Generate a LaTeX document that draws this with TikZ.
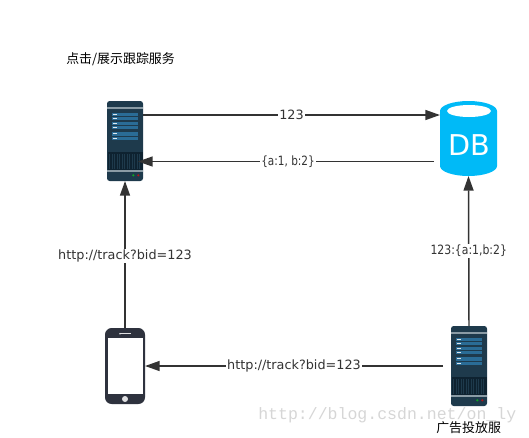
\documentclass[tikz,border=0pt]{standalone}
\usepackage{fontspec}
\setmainfont{DejaVu Sans}
\newfontfamily\cjk{Noto Sans CJK SC}
\newfontfamily\markfont{Liberation Mono}
\usepackage{xcolor}
\usetikzlibrary{arrows.meta,positioning}
\definecolor{rackbody}{RGB}{30,58,76}
\definecolor{rackstrip}{RGB}{138,155,165}
\definecolor{rackvent}{RGB}{14,34,48}
\definecolor{rackpanel}{RGB}{42,108,150}
\definecolor{phonebody}{RGB}{46,50,62}
\definecolor{dbblue}{RGB}{0,186,247}
\definecolor{linkgray}{RGB}{51,51,51}
\tikzset{
  rack/.style={minimum width=36*0.75pt, minimum height=80*0.75pt, inner sep=0pt, outer sep=0pt},
  mobile/.style={minimum width=40*0.75pt, minimum height=76*0.75pt, inner sep=0pt, outer sep=0pt},
  store/.style={minimum width=57*0.75pt, minimum height=75*0.75pt, inner sep=0pt, outer sep=0pt},
  link/.style={draw=linkgray, line width=1.1pt, -{Triangle[length=11pt, width=7.5pt]}},
  lbl/.style={fill=white, inner sep=0.6pt, font=\fontsize{9.6}{11}\selectfont, text=linkgray},
  title/.style={inner sep=0pt, font=\cjk\fontsize{9.7}{11}\selectfont, text=black}
}
\newcommand{\rackface}[1]{
  \begin{scope}[shift={(#1.center)}]
    \fill[rackbody, rounded corners=2pt] (-18,-40) rectangle (18,40);
    \fill[rackstrip] (-18,-34) rectangle (18,-32.5);
    \foreach \y in {-28.5,-24.5,-19.5,-15.5,-8.8,-4.5} {
      \fill[rackpanel] (-13,\y) rectangle (13,\y+3.4);
      \fill[white!85!rackpanel] (-12,\y+1) rectangle (-8,\y+2.2);
    }
    \fill[rackvent] (-17.5,11) rectangle (17.5,29);
    \foreach \x in {-16,-13.5,...,16} \fill[rackbody] (\x,12.5) rectangle (\x+0.7,28);
    \fill[rackstrip] (-18,29) rectangle (18,31);
    \fill[green!55!rackbody] (8.3,34.3) circle (1.2);
    \fill[red!65!rackbody] (13.3,34.3) circle (1.2);
  \end{scope}
}
\begin{document}
\begin{tikzpicture}[x=0.75pt, y=-0.75pt]
\useasboundingbox (0,0) rectangle (529,437);
% machines
\node[rack] (track) at (125,141) {};
\rackface{track}
\node[rack] (adserver) at (469,366) {};
\rackface{adserver}
\node[mobile] (phone) at (125,366) {};
\fill[phonebody, rounded corners=5pt] (105,328) rectangle (145,404);
\fill[white] (107.5,338) rectangle (143,394);
\fill[white!85!phonebody] (120,333.2) rectangle (131,334.4);
\fill[white!85!phonebody] (120,333.8) circle (0.9);
\fill[white!85!phonebody] (125,399) circle (3);
% database
\node[store] (db) at (468.5,138.5) {};
\fill[dbblue] (440,111) arc[start angle=180, end angle=360, x radius=28.5, y radius=10]
  -- (497,166) arc[start angle=0, end angle=180, x radius=28.5, y radius=10] -- cycle;
\fill[white] (469,111) ellipse[x radius=22, y radius=6];
\node[text=white, inner sep=0pt, font=\fontsize{21.5}{23}\selectfont] (dbname) at (469,145) {DB};
% captions
\node[title, anchor=west] (trackcap) at (66,59) {点击/展示跟踪服务};
\node[title, anchor=west] (adcap) at (436,428) {广告投放服};
\node[text=gray!32, inner sep=0pt, font=\markfont\fontsize{12.4}{14}\selectfont, anchor=west] (blogmark) at (258,415) {http://blog.csdn.net/on\_ly};
% links
\coordinate (trackout) at (143,115);
\coordinate (dbin) at (440,115);
\coordinate (dbout) at (434,161.5);
\coordinate (trackin) at (138,161.5);
\coordinate (adout) at (443,366);
\draw[link] (trackout) -- node[lbl] (lblid) {123} (dbin);
\draw[link] (dbout) -- node[lbl, pos=0.493] (lbldata) {\scalebox{0.82}[1]{\{a:1, b:2\}}} (trackin);
\draw[link] (phone.north) -- node[lbl, pos=0.49] (lblup) {http://track?bid=123} (track.south);
\draw[link] (adserver.north) -- node[lbl] (lblstore) {\scalebox{0.85}[1]{123:\{a:1,b:2\}}} (db.south);
\draw[link] (adout) -- node[lbl] (lblback) {http://track?bid=123} (phone.east);
\end{tikzpicture}
\end{document}
